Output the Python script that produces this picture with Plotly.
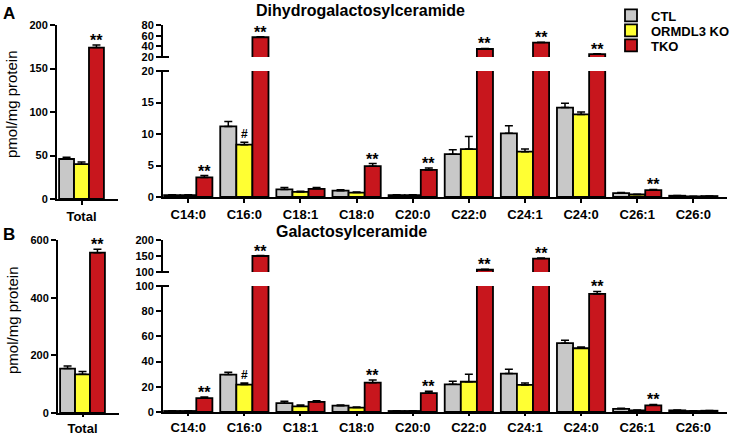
import plotly.graph_objects as go

W, H = 737, 433

categories = ["C14:0", "C16:0", "C18:1", "C18:0", "C20:0", "C22:0", "C24:1", "C24:0", "C26:1", "C26:0"]
groups = ["CTL", "ORMDL3 KO", "TKO"]
colors = ["#c8c8c8", "#ffff33", "#c8161d"]

# Dihydrogalactosylceramide (panel A)
dh_total = [46, 40, 174]
dh_total_err = [2, 2.5, 3]
dh_ctl = [0.3, 11.2, 1.2, 1.0, 0.3, 6.8, 10.1, 14.2, 0.6, 0.2]
dh_ctl_err = [0.05, 0.8, 0.3, 0.15, 0.05, 0.7, 1.2, 0.7, 0.1, 0.03]
dh_ko = [0.3, 8.3, 0.8, 0.7, 0.3, 7.6, 7.2, 13.1, 0.4, 0.1]
dh_ko_err = [0.05, 0.4, 0.1, 0.1, 0.05, 2.0, 0.4, 0.4, 0.05, 0.02]
dh_tko = [3.1, 57, 1.3, 4.9, 4.3, 35, 47, 25.5, 1.1, 0.15]
dh_tko_err = [0.3, 1.0, 0.2, 0.4, 0.3, 1.0, 0.8, 0.8, 0.1, 0.02]
dh_sig_tko = ["**", "**", "", "**", "**", "**", "**", "**", "**", ""]
dh_sig_ko = ["", "#", "", "", "", "", "", "", "", ""]

# Galactosylceramide (panel B)
g_total = [154, 134, 556]
g_total_err = [9, 10, 12]
g_ctl = [0.8, 29.7, 7.0, 5.0, 0.8, 22, 30.5, 54.6, 2.5, 1.3]
g_ctl_err = [0.1, 1.8, 1.5, 0.5, 0.1, 2.5, 3.5, 2.4, 0.5, 0.2]
g_ko = [0.8, 21.8, 4.5, 3.5, 0.8, 24, 21.5, 50.6, 1.3, 0.8]
g_ko_err = [0.1, 1.2, 1.0, 0.5, 0.1, 6.0, 1.5, 1.0, 0.2, 0.1]
g_tko = [11, 150, 8, 23.3, 15, 107, 142, 93.7, 5.3, 1.0]
g_tko_err = [1.0, 1.5, 1.0, 2.0, 1.5, 1.5, 1.5, 2.0, 0.7, 0.1]
g_sig_tko = ["**", "**", "", "**", "**", "**", "**", "**", "**", ""]
g_sig_ko = ["", "#", "", "", "", "", "", "", "", ""]

FONT = "Liberation Sans, Arial, sans-serif"
BARGAP = 0.14
BW = (1 - BARGAP) / 3
legend_ids = ["legend", "legend2", "legend3"]


def px(x):
    return x / W


def py(y):
    return 1 - y / H


def xd(a, b):
    return [px(a), px(b)]


def yd(top, bottom):
    return [py(bottom), py(top)]


fig = go.Figure()


def err(a):
    return dict(type="data", array=a, arrayminus=[0] * len(a), symmetric=False,
                color="black", thickness=1.5, width=4)


def add_row(total, total_err, series, series_err, xt, yt, xl, yl, yu, legend):
    for gi, g in enumerate(groups):
        mk = dict(color=colors[gi], line=dict(color="black", width=1.8))
        fig.add_trace(go.Bar(x=["Total"], y=[total[gi]], error_y=err([total_err[gi]]),
                             name=g, marker=mk, xaxis=xt, yaxis=yt, showlegend=legend,
                             legend=legend_ids[gi]))
        for ya in (yl, yu):
            fig.add_trace(go.Bar(x=categories, y=series[gi], error_y=err(series_err[gi]),
                                 name=g, marker=mk, xaxis=xl, yaxis=ya, showlegend=False))


add_row(dh_total, dh_total_err, [dh_ctl, dh_ko, dh_tko], [dh_ctl_err, dh_ko_err, dh_tko_err],
        "x", "y", "x2", "y2", "y3", True)
add_row(g_total, g_total_err, [g_ctl, g_ko, g_tko], [g_ctl_err, g_ko_err, g_tko_err],
        "x3", "y4", "x4", "y5", "y6", False)

yfont = dict(family=FONT, size=11, color="black", weight="bold")
xfont = dict(family=FONT, size=13, color="black", weight="bold")

common_y = dict(showline=True, linecolor="black", linewidth=2, ticks="outside", ticklen=5,
                tickwidth=2, tickcolor="black", showgrid=False, zeroline=False, tickfont=yfont,
                automargin=False, fixedrange=True)
common_x = dict(showline=True, linecolor="black", linewidth=2, ticks="outside",
                tickwidth=2, tickcolor="black", showgrid=False, zeroline=False, tickfont=xfont,
                automargin=False, type="category")

leg_font = dict(family=FONT, size=13, color="black", weight="bold")
legends = {}
for k, yc in zip(legend_ids, (15.5, 30.5, 45.5)):
    legends[k] = dict(x=px(611), y=py(yc), xanchor="left", yanchor="middle", font=leg_font,
                      itemwidth=30, bgcolor="rgba(0,0,0,0)", borderwidth=0)

fig.update_layout(
    xaxis=dict(domain=xd(57, 118), anchor="y", range=[-0.47, 0.70], ticklen=4, **common_x),
    yaxis=dict(domain=yd(25, 199), anchor="x", range=[0, 200], dtick=50, **common_y),
    xaxis2=dict(domain=xd(163, 727), anchor="y2", range=[-0.45, 9.6], ticklen=4, **common_x),
    yaxis2=dict(domain=yd(71, 197), anchor="x2", range=[0, 20], dtick=5, **common_y),
    yaxis3=dict(domain=yd(25, 57), anchor="x2", range=[20, 80], dtick=20, **common_y),
    xaxis3=dict(domain=xd(58, 119), anchor="y4", range=[-0.47, 0.70], ticklen=2, **common_x),
    yaxis4=dict(domain=yd(240, 413), anchor="x3", range=[0, 600], dtick=200, **common_y),
    xaxis4=dict(domain=xd(163, 727), anchor="y5", range=[-0.45, 9.6], ticklen=2, **common_x),
    yaxis5=dict(domain=yd(286, 412), anchor="x4", range=[0, 100], dtick=20, **common_y),
    yaxis6=dict(domain=yd(240, 272), anchor="x4", range=[100, 200], dtick=50, **common_y),
    barmode="group", bargap=BARGAP, bargroupgap=0,
    width=W, height=H, margin=dict(l=0, r=0, t=0, b=0),
    plot_bgcolor="white", paper_bgcolor="white",
    font=dict(family=FONT, color="black"),
    **legends,
)

ann = []


def sig_ann(x, yval, text, xref, yref):
    star = text == "**"
    ann.append(dict(x=x, y=yval, text=text, xref=xref, yref=yref, showarrow=False,
                    yanchor="bottom", xanchor="center", yshift=-6 if star else -1,
                    font=dict(family=FONT, size=16 if star else 12, color="black", weight="bold")))


sig_ann(BW, dh_total[2] + dh_total_err[2], "**", "x", "y")
sig_ann(BW, g_total[2] + g_total_err[2], "**", "x3", "y4")

for vals, errs, sigs, off, brk, xl, yl, yu in [
    (dh_tko, dh_tko_err, dh_sig_tko, BW, 20, "x2", "y2", "y3"),
    (dh_ko, dh_ko_err, dh_sig_ko, 0, 20, "x2", "y2", "y3"),
    (g_tko, g_tko_err, g_sig_tko, BW, 100, "x4", "y5", "y6"),
    (g_ko, g_ko_err, g_sig_ko, 0, 100, "x4", "y5", "y6"),
]:
    for i, s in enumerate(sigs):
        if s:
            top = vals[i] + errs[i]
            sig_ann(i + off, top, s, xl, yu if top > brk else yl)

# panel titles / letters / y titles
ann.append(dict(x=px(360), y=py(10), xref="paper", yref="paper", showarrow=False,
                text="Dihydrogalactosylceramide", xanchor="center", yanchor="middle",
                font=dict(family=FONT, size=16, color="black", weight="bold")))
ann.append(dict(x=px(351), y=py(231), xref="paper", yref="paper", showarrow=False,
                text="Galactosylceramide", xanchor="center", yanchor="middle",
                font=dict(family=FONT, size=16, color="black", weight="bold")))
ann.append(dict(x=px(9), y=py(14), xref="paper", yref="paper", showarrow=False,
                text="A", xanchor="center", yanchor="middle",
                font=dict(family=FONT, size=17, color="black", weight="bold")))
ann.append(dict(x=px(9), y=py(234), xref="paper", yref="paper", showarrow=False,
                text="B", xanchor="center", yanchor="middle",
                font=dict(family=FONT, size=17, color="black", weight="bold")))
for yc in (104, 320):
    ann.append(dict(x=px(12), y=py(yc), xref="paper", yref="paper", showarrow=False,
                    text="pmol/mg protein", textangle=-90, xanchor="center", yanchor="middle",
                    font=dict(family=FONT, size=15, color="black")))

fig.update_layout(annotations=ann)

# axis-break marks
shapes = []
for yb in (57, 71, 272, 286):
    shapes.append(dict(type="line", xref="paper", yref="paper", x0=px(158), x1=px(169),
                       y0=py(yb), y1=py(yb), line=dict(color="black", width=2)))
fig.update_layout(shapes=shapes)

fig.write_html("out.html", config={"displayModeBar": False},
               post_script="document.body.style.margin='0';document.body.style.overflow='hidden';")
